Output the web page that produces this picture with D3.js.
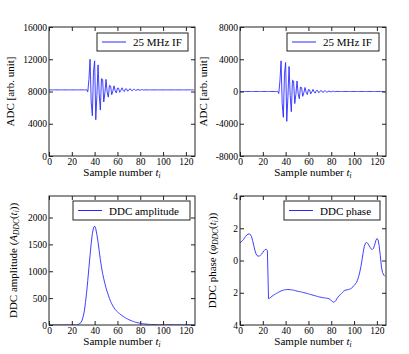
<!DOCTYPE html>
<html>
<head>
<meta charset="utf-8">
<script src="https://cdn.jsdelivr.net/npm/d3@7"></script>
<style>
  body { margin: 0; background: #fff; }
  svg text { font-family: "Liberation Serif", "DejaVu Serif", serif; fill: #000; }
</style>
</head>
<body>
<svg id="chart" width="409" height="354"></svg>
<script>
// sample index 0..127
var samples = d3.range(128);

// raw ADC counts, 25 MHz IF
var adcRaw = [
  8200,8200,8200,8200,8200,8200,8200,8200,8200,8200,
  8200,8200,8200,8200,8200,8200,8200,8200,8200,8200,
  8200,8200,8200,8200,8200,8200,8200,8200,8200,8200,
  8200,8200,8200,8220,7950,9500,12000,6700,5000,10400,
  11800,4500,7500,11300,7700,5700,9600,9500,6700,7850,
  9500,7920,7300,8760,8680,7600,8070,8700,8100,7820,
  8430,8410,7900,8140,8460,8145,8000,8330,8315,8040,
  8165,8350,8170,8090,8270,8260,8120,8183,8265,8188,
  8160,8225,8220,8175,8195,8218,8196,8190,8206,8205,
  8195,8200,8200,8200,8200,8200,8200,8200,8200,8200,
  8200,8200,8200,8200,8200,8200,8200,8200,8200,8200,
  8200,8200,8200,8200,8200,8200,8200,8200,8200,8200,
  8200,8200,8200,8200,8200,8200,8200,8200
];

// ADC with the offset removed
var adcIf = [
  0,0,0,0,0,0,0,0,0,0,
  0,0,0,0,0,0,0,0,0,0,
  0,0,0,0,0,0,0,0,0,0,
  0,0,0,20,-250,1300,3800,-1500,-3200,2200,
  3600,-3700,-700,3100,-500,-2500,1400,1300,-1500,-350,
  1300,-280,-900,560,480,-600,-130,500,-100,-380,
  230,210,-300,-60,260,-55,-200,130,115,-160,
  -35,150,-30,-110,70,60,-80,-17,65,-12,
  -40,25,20,-25,-5,18,-4,-10,6,5,
  -5,0,0,0,0,0,0,0,0,0,
  0,0,0,0,0,0,0,0,0,0,
  0,0,0,0,0,0,0,0,0,0,
  0,0,0,0,0,0,0,0
];

// DDC amplitude
var ddcAmp = [
  0,0,0,0,0,0,0,0,0,0,
  0,0,0,0,0,0,0,0,0,0,
  0,0,0,0,0,5,15,30,45,90,
  160,260,420,610,830,1070,1300,1520,1700,1810,
  1840,1790,1680,1540,1380,1220,1080,960,860,770,
  690,620,555,495,440,395,355,320,290,265,
  245,226,208,191,175,160,146,133,121,110,
  100,90,81,73,65,58,52,46,41,36,
  32,28,25,22,19,17,15,13,11,10,
  9,8,7,6,6,5,5,4,4,4,
  3,3,3,3,3,3,3,3,3,3,
  2,2,2,2,2,2,2,2,2,2,
  2,2,2,2,2,2,2,2
];

// DDC phase
var ddcPhase = [
  1.10,1.15,1.22,1.30,1.40,1.50,1.58,1.63,1.65,1.62,
  1.50,1.25,0.95,0.65,0.42,0.30,0.27,0.28,0.33,0.40,
  0.50,0.60,0.68,0.70,0.62,-2.36,-2.33,-2.28,-2.22,-2.17,
  -2.12,-2.08,-2.04,-2.00,-1.96,-1.92,-1.89,-1.86,-1.84,-1.82,
  -1.81,-1.80,-1.80,-1.80,-1.81,-1.82,-1.83,-1.84,-1.86,-1.88,
  -1.90,-1.91,-1.93,-1.94,-1.96,-1.97,-1.99,-2.01,-2.03,-2.05,
  -2.07,-2.09,-2.11,-2.13,-2.15,-2.17,-2.19,-2.21,-2.23,-2.25,
  -2.27,-2.28,-2.30,-2.31,-2.32,-2.33,-2.34,-2.35,-2.37,-2.42,
  -2.48,-2.55,-2.58,-2.56,-2.48,-2.36,-2.26,-2.18,-2.12,-2.05,
  -1.97,-1.90,-1.85,-1.83,-1.82,-1.80,-1.78,-1.75,-1.70,-1.63,
  -1.55,-1.47,-1.38,-1.22,-1.00,-0.72,-0.38,0.05,0.50,0.88,
  1.08,1.12,1.06,0.95,0.82,0.72,0.68,0.75,0.95,1.22,
  1.36,1.30,0.92,0.30,-0.40,-0.75,-0.90,-0.98
];

var xTicks = [0, 20, 40, 60, 80, 100, 120];
var adcRawTicks = [0, 4000, 8000, 12000, 16000];
var adcIfTicks = [-8000, -4000, 0, 4000, 8000];
var ampTicks = [0, 500, 1000, 1500, 2000];
var phaseTicks = [-4, -2, 0, 2, 4];

var svg = d3.select("#chart");
var lineColor = "#2a2aff";

var panels = [
  { l: 49, r: 195, t: 27, b: 156, y: adcRaw, yDom: [0, 16000], yTicks: adcRawTicks,
    fmt: d => d, legend: [97, 33, 91, 18], legendText: "25 MHz IF", lblX: 14, ylabel: "adc" },
  { l: 240, r: 386, t: 27, b: 156, y: adcIf, yDom: [-8000, 8000], yTicks: adcIfTicks,
    fmt: d => d, legend: [287, 33, 92, 18], legendText: "25 MHz IF", lblX: 207, ylabel: "adc" },
  { l: 49, r: 195, t: 196, b: 325, y: ddcAmp, yDom: [0, 2400], yTicks: ampTicks,
    fmt: d => d, legend: [73, 201, 117, 19], legendText: "DDC amplitude", lblX: 17, ylabel: "amp" },
  { l: 240, r: 386, t: 196, b: 325, y: ddcPhase, yDom: [-4, 4], yTicks: phaseTicks,
    fmt: d => Math.abs(d), legend: [284, 201, 96, 19], legendText: "DDC phase", lblX: 216, ylabel: "phase" }
];

panels.forEach( (p, k) => {
  var g = svg.append("g");
  var x = d3.scaleLinear().domain([0, 128]).range([p.l, p.r]);
  var y = d3.scaleLinear().domain(p.yDom).range([p.b, p.t]);

  g.append("clipPath").attr("id", "clip" + k)
    .append("rect").attr("x", p.l).attr("y", p.t)
    .attr("width", p.r - p.l).attr("height", p.b - p.t);

  // the curve
  var line = d3.line().x(i => x(i)).y(i => y(p.y[i]));
  g.append("path").datum(samples)
    .attr("clip-path", "url(#clip" + k + ")")
    .attr("d", line)
    .attr("fill", "none")
    .attr("stroke", lineColor)
    .attr("stroke-width", 0.9)
    .attr("stroke-linejoin", "round");

  // ticks pointing inwards on all sides
  var axes = [
    [d3.axisBottom(x).tickValues(xTicks).tickFormat(d => d), "translate(0," + p.b + ")"],
    [d3.axisTop(x).tickValues(xTicks).tickFormat(""), "translate(0," + p.t + ")"],
    [d3.axisLeft(y).tickValues(p.yTicks).tickFormat(p.fmt), "translate(" + p.l + ",0)"],
    [d3.axisRight(y).tickValues(p.yTicks).tickFormat(""), "translate(" + p.r + ",0)"]
  ];
  axes.forEach( a => {
    var ax = g.append("g").attr("transform", a[1])
      .call(a[0].tickSizeInner(-4).tickSizeOuter(0).tickPadding(2));
    ax.select(".domain").remove();
    ax.selectAll("line").attr("stroke", "#222");
    ax.selectAll("text").attr("font-size", 9.5)
      .attr("font-family", "Liberation Serif").attr("fill", "#000");
  });

  g.append("rect").attr("x", p.l).attr("y", p.t)
    .attr("width", p.r - p.l).attr("height", p.b - p.t)
    .attr("fill", "none").attr("stroke", "#222").attr("stroke-width", 1);

  // legend
  var lg = p.legend;
  g.append("rect").attr("x", lg[0]).attr("y", lg[1]).attr("width", lg[2]).attr("height", lg[3])
    .attr("fill", "#fff").attr("stroke", "#222").attr("stroke-width", 1);
  g.append("line").attr("x1", lg[0] + 5).attr("x2", lg[0] + 29)
    .attr("y1", lg[1] + lg[3] / 2).attr("y2", lg[1] + lg[3] / 2)
    .attr("stroke", lineColor).attr("stroke-width", 1);
  g.append("text").attr("x", lg[0] + 36).attr("y", lg[1] + lg[3] / 2 + 4)
    .attr("font-size", 11).text(p.legendText);

  // x label
  var xl = g.append("text").attr("x", (p.l + p.r) / 2).attr("y", p.b + 20)
    .attr("text-anchor", "middle").attr("font-size", 11);
  xl.append("tspan").text("Sample number ");
  xl.append("tspan").attr("font-style", "italic").text("t");
  xl.append("tspan").attr("font-size", 7.5).attr("dy", 2).attr("font-style", "italic").text("i");

  // y label
  var yl = g.append("text")
    .attr("transform", "translate(" + p.lblX + "," + ((p.t + p.b) / 2) + ") rotate(-90)")
    .attr("text-anchor", "middle").attr("font-size", 11);
  if (p.ylabel == "adc") {
    yl.text("ADC [arb. unit]");
  } else {
    yl.append("tspan").text(p.ylabel == "amp" ? "DDC amplitude (" : "DDC phase (");
    yl.append("tspan").attr("font-style", "italic").text(p.ylabel == "amp" ? "A" : "φ");
    yl.append("tspan").attr("font-style", "italic").attr("font-size", 7.5).attr("dy", 2).text("DDC");
    yl.append("tspan").attr("dy", -2).text("(");
    yl.append("tspan").attr("font-style", "italic").text("t");
    yl.append("tspan").attr("font-style", "italic").attr("font-size", 7.5).attr("dy", 2).text("i");
    yl.append("tspan").attr("dy", -2).text("))");
  }
});
</script>
</body>
</html>
